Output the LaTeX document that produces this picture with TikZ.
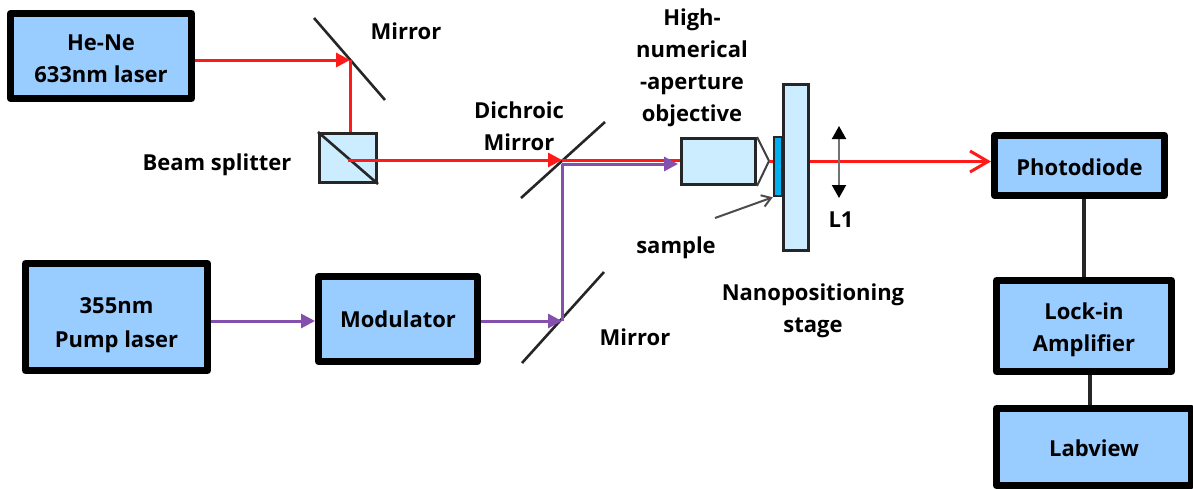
\documentclass[tikz,border=0pt]{standalone}
\usepackage{fontspec}
\setmainfont{Open Sans}
\usepackage{xcolor}
\usetikzlibrary{arrows.meta,positioning,calc}
\definecolor{boxblue}{HTML}{99CCFF}
\definecolor{opticice}{HTML}{CCECFF}
\definecolor{samplecyan}{HTML}{00B0F0}
\definecolor{beamred}{HTML}{FF1A1A}
\definecolor{pumppurple}{HTML}{7030A0}
\newcommand{\toppad}[1]{\rule{0pt}{#1}}
\tikzset{
  labbox/.style={
    draw=black,
    fill=boxblue,
    line width=7pt,
    line join=round,
    inner sep=0pt,
    align=center,
    font=\fontsize{22}{32}\selectfont\bfseries
  },
  opticbox/.style={
    draw=black!85,
    fill=opticice,
    line width=3pt,
    inner sep=0pt
  },
  caption/.style={
    align=center,
    inner sep=0pt,
    font=\fontsize{22}{32}\selectfont\bfseries
  },
  mirrorline/.style={
    line width=2.6pt,
    draw=black!85
  },
  redbeam/.style={
    line width=3pt,
    draw=beamred
  },
  redarrow/.style={
    redbeam,
    -{Triangle[length=14pt,width=14pt]}
  },
  pumpbeam/.style={
    line width=3pt,
    draw=pumppurple!85
  },
  pumparrow/.style={
    pumpbeam,
    -{Triangle[length=14pt,width=14pt]}
  },
  wire/.style={
    line width=3.5pt,
    draw=black!85
  }
}
\begin{document}
\begin{tikzpicture}[x=1pt,y=-1pt]
\useasboundingbox (0,0) rectangle (1193,488);
% boxes
\node[labbox, minimum width=181pt, minimum height=85pt] (hene) at (101,56) {\toppad{22pt}He-Ne\\633nm laser};
\node[labbox, minimum width=182pt, minimum height=107pt] (pump) at (116.5,317) {\toppad{32pt}355nm\\[2pt]Pump laser};
\node[labbox, minimum width=159pt, minimum height=85pt] (mod) at (398,319) {Modulator};
\node[labbox, minimum width=170pt, minimum height=60pt] (photo) at (1079.5,165.5) {\toppad{20pt}Photodiode};
\node[labbox, minimum width=175pt, minimum height=91pt] (lockin) at (1084,326) {\toppad{25pt}Lock-in\\Amplifier};
\node[labbox, minimum width=195pt, minimum height=77pt] (labview) at (1094,447) {\toppad{20pt}Labview};
% optics
\node[opticbox, minimum width=57pt, minimum height=49pt] (split) at (348,158) {};
\node[opticbox, minimum width=74pt, minimum height=46pt] (obj) at (718.5,161.5) {};
\node[draw=black!85, line width=2.5pt, fill=samplecyan, inner sep=0pt, minimum width=8pt, minimum height=59pt] (samp) at (778,166.5) {};
\node[opticbox, minimum width=25pt, minimum height=166pt] (stage) at (796,167.5) {};
\coordinate (mirA) at (350,60);
\coordinate (mirB) at (562,160);
\coordinate (mirC) at (562,321);
\coordinate (tip) at (769,161);
\coordinate (lensT) at (839,126);
\coordinate (lensB) at (839,198);
\coordinate (sampTail) at (715,218);
\coordinate (wireB) at (1090,390);
% mirrors
\draw[mirrorline] (314,18) -- (385,100);
\draw[mirrorline] (521,198) -- (605,122);
\draw[mirrorline] (522,363) -- (604,272);
\draw[mirrorline] (split.north west) -- (split.south east);
% objective tip
\draw[line width=2pt, draw=black!75] (obj.north east) -- (tip) -- (obj.south east);
% beams
\draw[redarrow] (hene.east |- mirA) -- (mirA);
\draw[redbeam] (split.north -| mirA) -- (mirA);
\draw[redarrow] (split.center |- mirB) -- (mirB);
\draw[redbeam] (mirB) -- (obj.west |- mirB);
\draw[redbeam] (tip) -- (samp.west |- tip);
\draw[pumparrow] (pump.east |- mirC) -- (mod.west |- mirC);
\draw[pumparrow] (mod.east |- mirC) -- (mirC);
\draw[pumpbeam] (mirC) -- (mirB |- 0,164);
\draw[pumparrow] (mirB |- 0,164) -- (678,164);
\draw[redbeam, -{Straight Barb[length=18pt,width=21pt]}] (stage.east |- 0,161.5) -- (photo.west |- 0,161.5);
% lens and pointer
\draw[line width=2pt, draw=black!55, {Triangle[length=13pt,width=14pt,black]}-{Triangle[length=13pt,width=14pt,black]}] (lensT) -- (lensB);
\draw[line width=2pt, draw=black!70, -{Straight Barb[length=9pt,width=12pt]}] (sampTail) -- (samp.south west);
% links
\draw[wire] (lockin.north) -- (lockin.north |- photo.south);
\draw[wire] (wireB |- lockin.south) -- (wireB |- labview.north);
% labels
\node[caption] (lblA) at (406,31) {Mirror};
\node[caption] (lblB) at (217,165) {Beam splitter};
\node[caption] (lblC) at (519,126) {Dichroic\\Mirror};
\node[caption] (lblD) at (635,337) {Mirror};
\node[caption] (lblE) at (692,68) {High-\\numerical\\-aperture\\objective};
\node[caption] (lblF) at (676,248) {sample};
\node[caption] (lblG) at (813,311) {Nanopositioning\\stage};
\node[caption] (lblH) at (841,220) {L1};
\end{tikzpicture}
\end{document}
